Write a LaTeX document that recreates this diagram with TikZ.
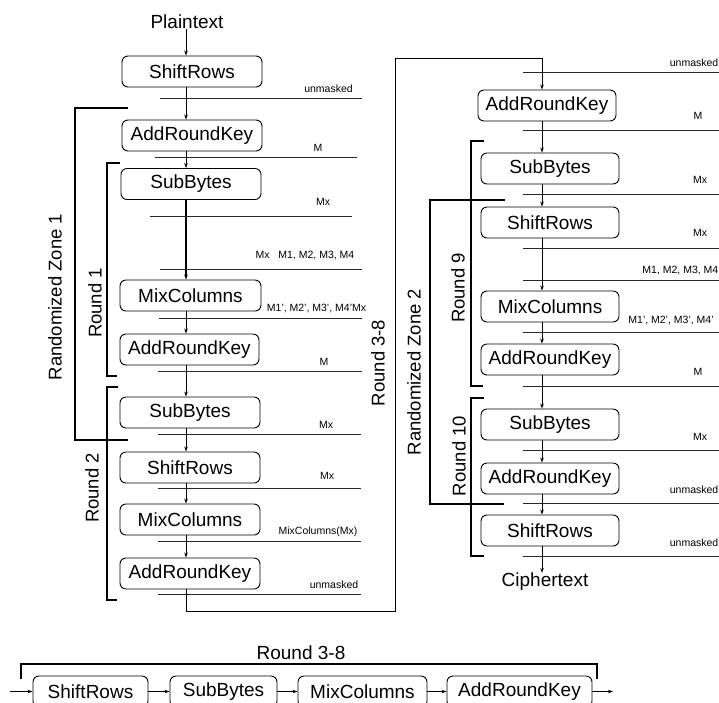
\documentclass[tikz,border=0pt]{standalone}
\usepackage{fontspec}
\setmainfont{Liberation Sans}
\usetikzlibrary{arrows.meta}
\begin{document}
\begin{tikzpicture}[x=1pt,y=-1pt,
  blk/.style={draw,rounded corners=6pt,line width=0.9pt,inner sep=0pt,minimum height=31pt,font=\fontsize{19}{22}\selectfont},
  big/.style={font=\fontsize{19}{22}\selectfont,inner sep=0pt},
  side/.style={font=\fontsize{18.5}{22}\selectfont,inner sep=0pt,rotate=90},
  lab/.style={font=\fontsize{10.5}{12}\selectfont,inner sep=0pt},
  flow/.style={line width=0.9pt,-{Stealth[length=5pt,width=3.5pt]}},
  mask/.style={line width=1pt,draw=black!85},
  brk/.style={line width=1.2pt}]
\useasboundingbox (0,0) rectangle (719,702);

% ---------------- left column ----------------
\node[big] (pt) at (187,22) {Plaintext};
\node[blk,minimum width=140pt] (L1) at (192,71.5) {ShiftRows};
\node[blk,minimum width=140pt] (L2) at (192,135.5) {AddRoundKey};
\node[blk,minimum width=140pt] (L3) at (191,184) {SubBytes};
\node[blk,minimum width=141pt] (L4) at (190.5,295.5) {MixColumns};
\node[blk,minimum width=139pt] (L5) at (189.5,349.5) {AddRoundKey};
\node[blk,minimum width=140pt] (L6) at (190,412.5) {SubBytes};
\node[blk,minimum width=140pt] (L7) at (190,467.5) {ShiftRows};
\node[blk,minimum width=140pt] (L8) at (190,519.5) {MixColumns};
\node[blk,minimum width=140pt] (L9) at (190,573.5) {AddRoundKey};
\coordinate (ax) at (186,0);

\draw[flow] (pt.south -| ax) -- (L1.north -| ax);
\draw[flow] (L1.south -| ax) -- (L2.north -| ax);
\draw[flow] (L2.south -| ax) -- (L3.north -| ax);
\draw[flow,line width=1.5pt] (L3.south -| ax) -- (L4.north -| ax);
\draw[flow] (L4.south -| ax) -- (L5.north -| ax);
\draw[flow] (L5.south -| ax) -- (L6.north -| ax);
\draw[flow] (L6.south -| ax) -- (L7.north -| ax);
\draw[flow] (L7.south -| ax) -- (L8.north -| ax);
\draw[flow] (L8.south -| ax) -- (L9.north -| ax);

% mask lines left
\draw[mask] (160,98) -- (362,98);
\draw[mask] (155,157) -- (357,157);
\draw[mask] (150,216) -- (352,216);
\draw[mask] (160,269) -- (362,269);
\draw[mask] (159,318) -- (362,318);
\draw[mask] (158,371) -- (362,371);
\draw[mask] (158,434) -- (361,434);
\draw[mask] (158,488) -- (361,488);
\draw[mask] (158,541) -- (361,541);
\draw[mask] (158,594) -- (361,594);

\node[lab] (t1) at (328.5,89) {unmasked};
\node[lab] (t2) at (318,148) {M};
\node[lab] (t3) at (323,202) {Mx};
\node[lab] (t4) at (305,255) {Mx\ \ \ M1, M2, M3, M4};
\node[lab] (t5) at (316.5,308) {M1', M2', M3', M4'Mx};
\node[lab] (t6) at (324,362) {M};
\node[lab] (t7) at (326,425) {Mx};
\node[lab] (t8) at (327,476) {Mx};
\node[lab] (t9) at (318,532) {MixColumns(Mx)};
\node[lab] (t10) at (334,585) {unmasked};

% brackets left
\draw[brk] (128,108) -- (75,108) -- (75,440) -- (128,440);
\draw[brk] (120,163) -- (107,163) -- (107,376) -- (117,376);
\draw[brk] (118,387) -- (107,387) -- (107,600) -- (117,600);

\node[side] (z1) at (55,297) {Randomized Zone 1};
\node[side] (r1) at (95,303) {Round 1};
\node[side] (r2) at (92,488) {Round 2};
\node[side] (r38) at (378,363) {Round 3-8};

% ---------------- right column ----------------
\node[blk,minimum width=138pt] (R1) at (547,105.5) {AddRoundKey};
\node[blk,minimum width=138pt] (R2) at (550,168.5) {SubBytes};
\node[blk,minimum width=138pt] (R3) at (550,222.5) {ShiftRows};
\node[blk,minimum width=138pt] (R4) at (550,306.5) {MixColumns};
\node[blk,minimum width=138pt] (R5) at (550,359.5) {AddRoundKey};
\node[blk,minimum width=138pt] (R6) at (550,424.5) {SubBytes};
\node[blk,minimum width=138pt] (R7) at (550,478.5) {AddRoundKey};
\node[blk,minimum width=138pt] (R8) at (550,530.5) {ShiftRows};
\node[big] (ct) at (545,582) {Ciphertext};
\coordinate (rx) at (542,0);

\draw[flow] (L9.south -| ax) -- (186,611) -- (395,611) -- (395,58) -- (542,58) -- (R1.north -| rx);
\draw[flow] (R1.south -| rx) -- (R2.north -| rx);
\draw[flow] (R2.south -| rx) -- (R3.north -| rx);
\draw[flow] (R3.south -| rx) -- (R4.north -| rx);
\draw[flow] (R4.south -| rx) -- (R5.north -| rx);
\draw[flow] (R5.south -| rx) -- (R6.north -| rx);
\draw[flow] (R6.south -| rx) -- (R7.north -| rx);
\draw[flow] (R7.south -| rx) -- (R8.north -| rx);
\draw[flow] (R8.south -| rx) -- (ct.north -| rx);

% mask lines right
\foreach \yy in {72,130,194,248,280,332,386,450,503,556}
  \draw[mask] (523,\yy) -- (719,\yy);

\node[lab,anchor=east] (u1) at (718.5,63) {unmasked};
\node[lab] (u2) at (698,116) {M};
\node[lab] (u3) at (700,180) {Mx};
\node[lab] (u4) at (700,233) {Mx};
\node[lab,anchor=east] (u5) at (718.5,270) {M1, M2, M3, M4};
\node[lab] (u6) at (671,320) {M1', M2', M3', M4'};
\node[lab] (u7) at (698,372) {M};
\node[lab] (u8) at (700,437) {Mx};
\node[lab,anchor=east] (u9) at (718.5,490) {unmasked};
\node[lab,anchor=east] (u10) at (718.5,543) {unmasked};

% brackets right
\draw[brk] (484,141) -- (471,141) -- (471,386) -- (483,386);
\draw[brk] (505,200) -- (430,200) -- (430,504) -- (504,504);
\draw[brk] (484,398) -- (471,398) -- (471,556) -- (484,556);

\node[side] (z2) at (414,372) {Randomized Zone 2};
\node[side] (r9) at (458,288) {Round 9};
\node[side] (r10) at (459,456) {Round 10};

% ---------------- bottom row ----------------
\node[big] (bt) at (301,653) {Round 3-8};
\draw[brk] (21,679) -- (21,664) -- (597,664) -- (597,679);
\node[blk,minimum width=115pt] (B1) at (90.5,691.5) {ShiftRows};
\node[blk,minimum width=107pt] (B2) at (223.5,691.5) {SubBytes};
\node[blk,minimum width=129pt] (B3) at (362.5,691.5) {MixColumns};
\node[blk,minimum width=145pt] (B4) at (519.5,691.5) {AddRoundKey};
\coordinate (bin) at (10,691.5);
\coordinate (bout) at (613,691.5);
\draw[flow] (bin) -- (B1.west);
\draw[flow] (B1.east) -- (B2.west);
\draw[flow] (B2.east) -- (B3.west);
\draw[flow] (B3.east) -- (B4.west);
\draw[flow] (B4.east) -- (bout);
\end{tikzpicture}
\end{document}
